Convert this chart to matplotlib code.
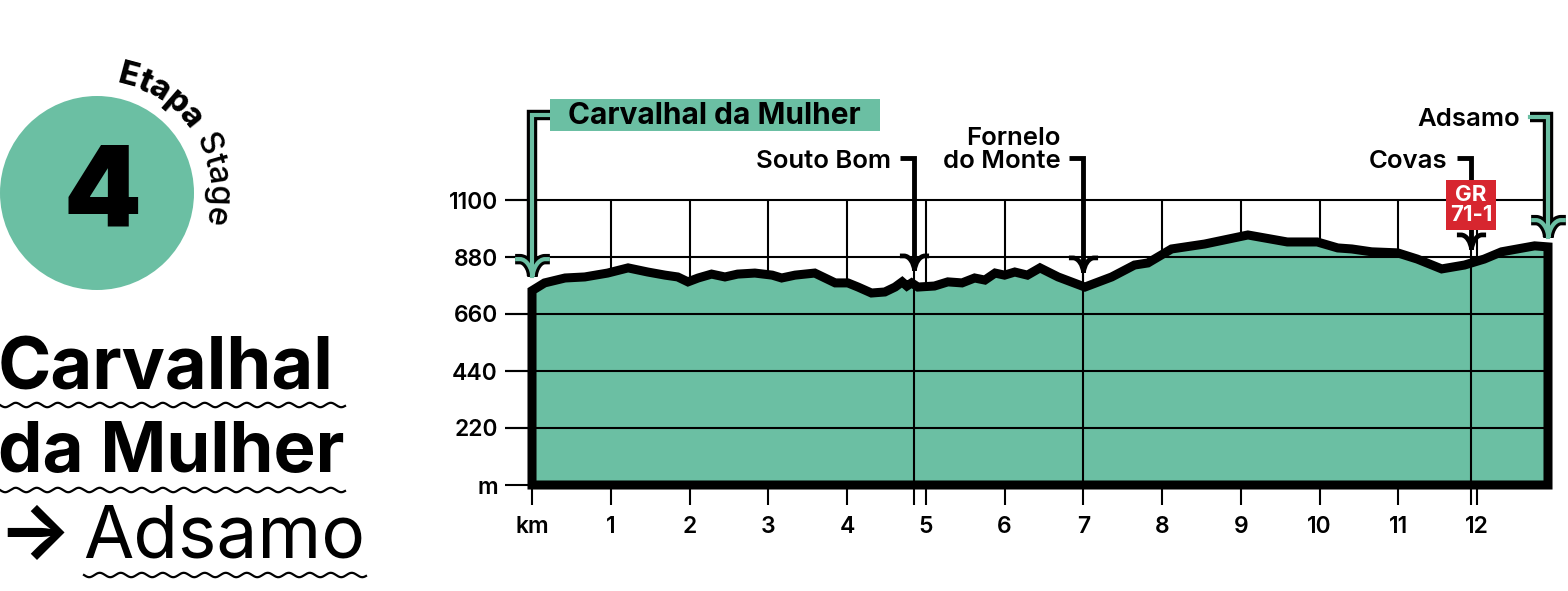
import numpy as np
import matplotlib
matplotlib.use("Agg")
import matplotlib.pyplot as plt
import matplotlib.patches as mpatches
from matplotlib.path import Path
from matplotlib.font_manager import FontProperties
from matplotlib.textpath import text_to_path

plt.rcParams['font.family'] = ['Inter', 'DejaVu Sans']

# --- elevation profile (km, m) ---
km = [0.0, 0.16, 0.42, 0.67, 0.96, 1.22, 1.47, 1.69, 1.85, 1.98, 2.11, 2.28,
      2.45, 2.61, 2.83, 3.05, 3.17, 3.34, 3.59, 3.85, 4.01, 4.14, 4.31, 4.48,
      4.61, 4.70, 4.76, 4.82, 4.90, 5.11, 5.28, 5.46, 5.62, 5.75, 5.88, 6.00,
      6.13, 6.29, 6.45, 6.68, 7.02, 7.36, 7.65, 7.82, 8.12, 8.54, 9.09, 9.59,
      9.97, 10.23, 10.41, 10.66, 10.99, 11.24, 11.55, 11.84, 12.09, 12.31,
      12.51, 12.73, 12.9]
elev = [750, 780, 799, 803, 818, 838, 822, 810, 803, 784, 799, 814,
        803, 814, 818, 810, 799, 810, 818, 780, 780, 764, 741, 745,
        764, 784, 768, 780, 764, 768, 784, 780, 799, 791, 818, 810,
        822, 810, 838, 803, 764, 803, 849, 857, 911, 930, 965, 938,
        938, 915, 911, 900, 896, 872, 834, 849, 872, 900,
        911, 923, 919]

km_ticks = list(range(13))
km_labels = ['km'] + [str(i) for i in range(1, 13)]
m_ticks = [0, 220, 440, 660, 880, 1100]
m_labels = ['m', '220', '440', '660', '880', '1100']

# intermediate places (black arrows)
stops = ['Souto Bom', 'Fornelo\ndo Monte', 'Covas']
stops_km = [4.85, 7.0, 11.92]
start_name, end_name = 'Carvalhal da Mulher', 'Adsamo'
badge = 'GR\n71-1'

GREEN = '#6bbfa3'
RED = '#d7262f'
W, H = 1568, 591

fig = plt.figure(figsize=(W / 100, H / 100), dpi=100)

# ---------- left title block (pixel coordinates) ----------
deco = fig.add_axes([0, 0, 1, 1])
deco.set_xlim(0, W)
deco.set_ylim(H, 0)
deco.axis('off')

deco.add_patch(mpatches.Circle((97, 193), 97, color=GREEN, lw=0))
deco.text(102, 197, '4', fontsize=80, fontweight='black', ha='center',
          va='center')


def arc_text(ax, parts, cx, cy, r, a0, a1, fs):
    chars = []
    for txt, wt in parts:
        fp = FontProperties(family='Inter', weight=wt, size=fs)
        for ch in txt:
            w = text_to_path.get_text_width_height_descent(ch, fp, ismath=False)[0]
            if ch == ' ':
                w = fs * 0.3
            chars.append((ch, wt, w))
    total = sum(c[2] for c in chars)
    pos = 0
    for ch, wt, w in chars:
        t = a0 - (pos + w / 2) / total * (a0 - a1)
        pos += w
        if ch == ' ':
            continue
        th = np.radians(t)
        ax.text(cx + r * np.cos(th), cy - r * np.sin(th), ch, fontsize=fs,
                fontweight=wt, rotation=t - 90, rotation_mode='anchor',
                ha='center', va='baseline')


arc_text(deco, [('Etapa ', 'heavy'), ('Stage', 'medium')], 97, 193, 112,
         80, -16, 23.5)

deco.text(-2, 389, 'Carvalhal', fontsize=52, fontweight='bold', va='baseline')
deco.text(-2, 472, 'da Mulher', fontsize=51, fontweight='bold', va='baseline')
deco.text(-3, 557, '\u2192', fontsize=56, fontweight='bold', va='baseline')
deco.text(83, 557, 'Adsamo', fontsize=52.5, fontweight='normal', va='baseline')


def wavy(ax, x0, x1, y):
    xs = np.linspace(x0, x1, 400)
    ax.plot(xs, y + 2.2 * np.sin(2 * np.pi * (xs - x0) / 21.0), color='black',
            lw=1.6)


wavy(deco, 0, 345, 405)
wavy(deco, 0, 345, 490)
wavy(deco, 84, 366, 575)

# ---------- elevation profile ----------
ax = fig.add_axes([532 / W, (H - 485) / H, 1016 / W, 285 / H])
ax.set_xlim(0, 12.9)
ax.set_ylim(0, 1100)
ax.patch.set_visible(False)
for s in ax.spines.values():
    s.set_visible(False)

kx = 12.9 / 1016   # km per pixel
ky = 1100 / 285    # m per pixel

ax.vlines(km_ticks[1:], 0, 1100, color='black', lw=1.5, zorder=1)
ax.fill_between(km, elev, 0, color=GREEN, lw=0, zorder=2)
ax.hlines(m_ticks[1:], -27 * kx, 12.9, color='black', lw=1.5, zorder=3,
          clip_on=False)

outline = [(km[0], 0)] + list(zip(km, elev)) + [(km[-1], 0)]
ax.add_patch(mpatches.Polygon(outline, closed=True, fill=False, ec='black',
                              lw=6.5, joinstyle='miter', zorder=4,
                              clip_on=False))

ax.set_xticks(km_ticks, km_labels)
ax.set_xticks(stops_km, minor=True)
ax.set_yticks(m_ticks, m_labels)
ax.tick_params(axis='x', which='both', length=14.5, width=1.5, pad=8,
               labelsize=16.5)
ax.tick_params(axis='y', length=19.5, width=1.5, pad=5, labelsize=16.5)
for lab in ax.get_xticklabels() + ax.get_yticklabels():
    lab.set_fontweight('semibold')

# arrowhead marker: tip at the origin, curled barbs
head = Path([(-1, 1.0), (-0.72, 1.0), (-0.35, 1.0), (-0.04, 0.5), (0, 0),
             (1, 1.0), (0.72, 1.0), (0.35, 1.0), (0.04, 0.5), (0, 0)],
            [Path.MOVETO, Path.LINETO, Path.CURVE4, Path.CURVE4, Path.CURVE4,
             Path.MOVETO, Path.LINETO, Path.CURVE4, Path.CURVE4, Path.CURVE4])

gap = 55
top_y = (485 - 158) * ky
for name, x in zip(stops, stops_km):
    tip = np.interp(x, km, elev) + gap
    ax.vlines(x, 0, tip, color='black', lw=1.5, zorder=3)
    ax.plot([x - 14 * kx, x, x], [top_y, top_y, tip], color='black', lw=3.5,
            solid_joinstyle='miter', solid_capstyle='butt', zorder=5,
            clip_on=False)
    ax.plot([x], [tip], marker=head, ms=21, mfc='none', mec='black', mew=3.4,
            zorder=5, clip_on=False)
    ax.text(x - 23 * kx, top_y - 38, name, fontsize=18.5, fontweight='semibold',
            ha='right', va='baseline', linespacing=1.0, clip_on=False)

# GR badge over the Covas arrow
bx = stops_km[2]
ax.add_patch(mpatches.Rectangle((bx - 25 * kx, (485 - 230) * ky), 50 * kx,
                                50 * ky, color=RED, lw=0, zorder=6,
                                clip_on=False))
ax.text(bx, (485 - 205) * ky, badge, color='white', fontsize=16,
        fontweight='bold', ha='center', va='center', linespacing=0.95,
        zorder=7, clip_on=False)


# start and end (green arrows)
def green_arrow(xs, ys):
    ax.plot(xs, ys, color='black', lw=7.5, solid_joinstyle='miter',
            solid_capstyle='butt', zorder=5, clip_on=False)
    ax.plot(xs, ys, color=GREEN, lw=3, solid_joinstyle='miter',
            solid_capstyle='projecting', zorder=6, clip_on=False)
    ax.plot([xs[-1]], [ys[-1]], marker=head, ms=25, mfc='none', mec='black',
            mew=7.5, zorder=5, clip_on=False)
    ax.plot([xs[-1]], [ys[-1]], marker=head, ms=25, mfc='none', mec=GREEN,
            mew=3, zorder=6, clip_on=False)


s_top = (485 - 115) * ky
green_arrow([18 * kx, km[0], km[0]], [s_top, s_top, elev[0] + gap])
ax.add_patch(mpatches.Rectangle((18 * kx, (485 - 131) * ky), 330 * kx,
                                32 * ky, color=GREEN, lw=0, zorder=6,
                                clip_on=False))
ax.text(36 * kx, (485 - 124) * ky, start_name, fontsize=21.5,
        fontweight='bold', ha='left', va='baseline', zorder=7, clip_on=False)

e_top = (485 - 117) * ky
green_arrow([km[-1] - 18 * kx, km[-1], km[-1]], [e_top, e_top, elev[-1] + 40])
ax.text(km[-1] - 28 * kx, (485 - 126) * ky, end_name, fontsize=18.5,
        fontweight='semibold', ha='right', va='baseline', clip_on=False)

fig.savefig('out.png', dpi=100)
